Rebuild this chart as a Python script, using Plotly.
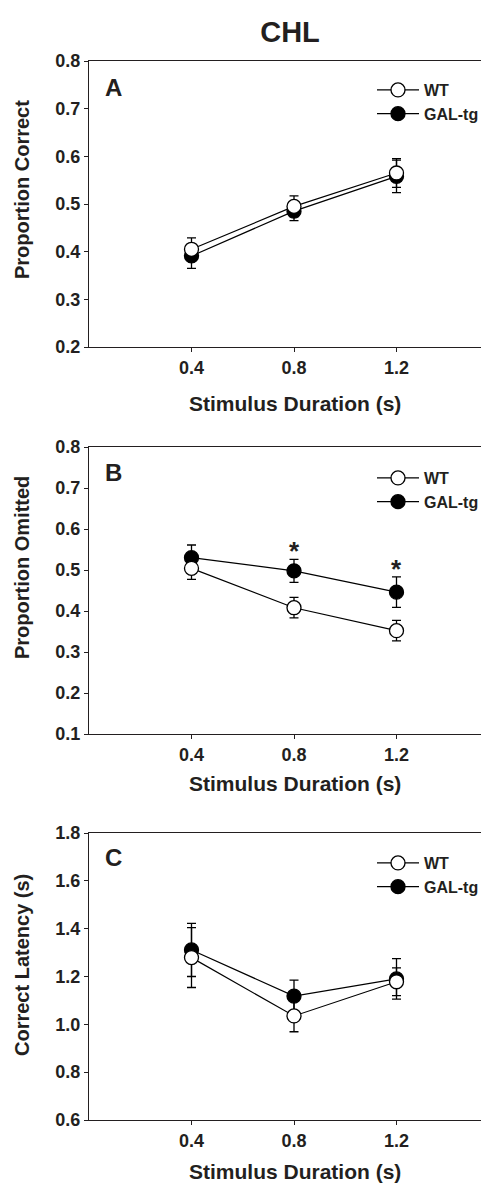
import plotly.graph_objects as go

# ---------------- data ----------------
durations = [0.4, 0.8, 1.2]
x_ticks = [0.4, 0.8, 1.2]
x_tick_labels = ["0.4", "0.8", "1.2"]

# Panel A: Proportion Correct
a_wt = [0.405, 0.495, 0.565]
a_wt_err = [0.024, 0.022, 0.030]
a_gal = [0.391, 0.485, 0.558]
a_gal_err = [0.026, 0.020, 0.034]

# Panel B: Proportion Omitted
b_wt = [0.504, 0.408, 0.352]
b_wt_err = [0.027, 0.025, 0.025]
b_gal = [0.530, 0.498, 0.446]
b_gal_err = [0.031, 0.028, 0.037]
b_star_x = [0.8, 1.2]
b_star_y = [0.547, 0.502]

# Panel C: Correct Latency (s)
c_wt = [1.279, 1.035, 1.178]
c_wt_err = [0.125, 0.066, 0.058]
c_gal = [1.311, 1.118, 1.190]
c_gal_err = [0.111, 0.067, 0.085]

series_names = ["WT", "GAL-tg"]
panel_letters = ["A", "B", "C"]
y_titles = ["Proportion Correct", "Proportion Omitted", "Correct Latency (s)"]
x_title = "Stimulus Duration (s)"
main_title = "CHL"

# ---------------- layout helpers ----------------
OFF = 8                      # page body margin
W, H = 489 - OFF, 1184 - OFF
AX_X = 89                    # y-axis line position in the picture
ML = AX_X - OFF
PW = W - ML
FONT = "Liberation Sans, Arial, sans-serif"
INK = "#231f20"


def py(p):
    return 1 - (p - OFF) / H


def pxx(p):
    return (p - AX_X) / PW


panels = [
    dict(top=61, bot=347, rng=[0.2, 0.8], dtick=0.1, wt=a_wt, wte=a_wt_err, gal=a_gal, gale=a_gal_err,
         leg_y=73, letter_y=87, ytitle_y=190, xtitle_y=403),
    dict(top=447, bot=734, rng=[0.1, 0.8], dtick=0.1, wt=b_wt, wte=b_wt_err, gal=b_gal, gale=b_gal_err,
         leg_y=461, letter_y=472, ytitle_y=568, xtitle_y=783),
    dict(top=833, bot=1120, rng=[0.6, 1.8], dtick=0.2, wt=c_wt, wte=c_wt_err, gal=c_gal, gale=c_gal_err,
         leg_y=846, letter_y=857, ytitle_y=965, xtitle_y=1171),
]

fig = go.Figure()
annotations = []
layout_updates = {}

for i, p in enumerate(panels):
    n = "" if i == 0 else str(i + 1)
    xa, ya = "x" + n, "y" + n
    leg = "legend" + n
    for name, vals, errs, fill in [
        (series_names[1], p["gal"], p["gale"], "black"),
        (series_names[0], p["wt"], p["wte"], "white"),
    ]:
        fig.add_trace(go.Scatter(
            x=durations, y=vals, name=name, mode="lines+markers",
            xaxis=xa, yaxis=ya, legend=leg,
            line=dict(color="black", width=1.2),
            marker=dict(symbol="circle", size=14, color=fill,
                        line=dict(color="black", width=1.3)),
            error_y=dict(type="data", array=errs, visible=True,
                         color="black", thickness=1.3, width=4.5),
            cliponaxis=False,
        ))

    layout_updates["xaxis" + n] = dict(
        domain=[0, 1], range=[0, PW / 256.25], anchor=ya, automargin=False,
        showline=True, linecolor=INK, linewidth=1.3, mirror=True,
        ticks="outside", ticklen=4, tickwidth=1, tickcolor=INK,
        tickvals=x_ticks, ticktext=x_tick_labels,
        tickfont=dict(family=FONT, size=18, color=INK, weight="bold"),
        showgrid=False, zeroline=False, fixedrange=True,
    )
    layout_updates["yaxis" + n] = dict(
        domain=[py(p["bot"]), py(p["top"])], range=p["rng"], anchor=xa, automargin=False,
        showline=True, linecolor=INK, linewidth=1.3, mirror=False,
        ticks="outside", ticklen=4, tickwidth=1, tickcolor=INK,
        dtick=p["dtick"], tick0=p["rng"][0], tickformat=".1f",
        tickfont=dict(family=FONT, size=18, color=INK, weight="bold"),
        showgrid=False, zeroline=False, fixedrange=True,
    )
    layout_updates[leg] = dict(
        x=pxx(372), y=py(p["leg_y"]), xanchor="left", yanchor="top",
        xref="paper", yref="paper",
        traceorder="reversed", bgcolor="rgba(0,0,0,0)", borderwidth=0,
        font=dict(family=FONT, size=16, color=INK, weight="bold"),
        itemwidth=42, tracegroupgap=0,
    )

    annotations.append(dict(
        text=panel_letters[i], xref="paper", yref="paper",
        x=pxx(113), y=py(p["letter_y"]), xanchor="center", yanchor="middle",
        showarrow=False, font=dict(family=FONT, size=24, color=INK, weight="bold"),
    ))
    annotations.append(dict(
        text=y_titles[i], xref="paper", yref="paper", textangle=-90,
        x=pxx(22), y=py(p["ytitle_y"]), xanchor="center", yanchor="middle",
        showarrow=False, font=dict(family=FONT, size=20, color=INK, weight="bold"),
    ))
    annotations.append(dict(
        text=x_title, xref="paper", yref="paper",
        x=pxx(295), y=py(p["xtitle_y"]), xanchor="center", yanchor="middle",
        showarrow=False, font=dict(family=FONT, size=21, color=INK, weight="bold"),
    ))

for sx, sy in zip(b_star_x, b_star_y):
    annotations.append(dict(
        text="*", xref="x2", yref="y2", x=sx, y=sy, xanchor="center", yanchor="middle",
        showarrow=False, font=dict(family=FONT, size=26, color=INK, weight="bold"),
    ))

fig.update_layout(
    width=W, height=H,
    margin=dict(l=ML, r=0, t=0, b=0, autoexpand=False),
    paper_bgcolor="white", plot_bgcolor="white",
    showlegend=True,
    title=dict(text=main_title, xref="container", yref="container",
               x=(290 - OFF) / W, y=py(32), xanchor="center", yanchor="middle",
               font=dict(family=FONT, size=29, color=INK, weight="bold")),
    annotations=annotations,
    **layout_updates,
)

fig.write_html("out.html")
